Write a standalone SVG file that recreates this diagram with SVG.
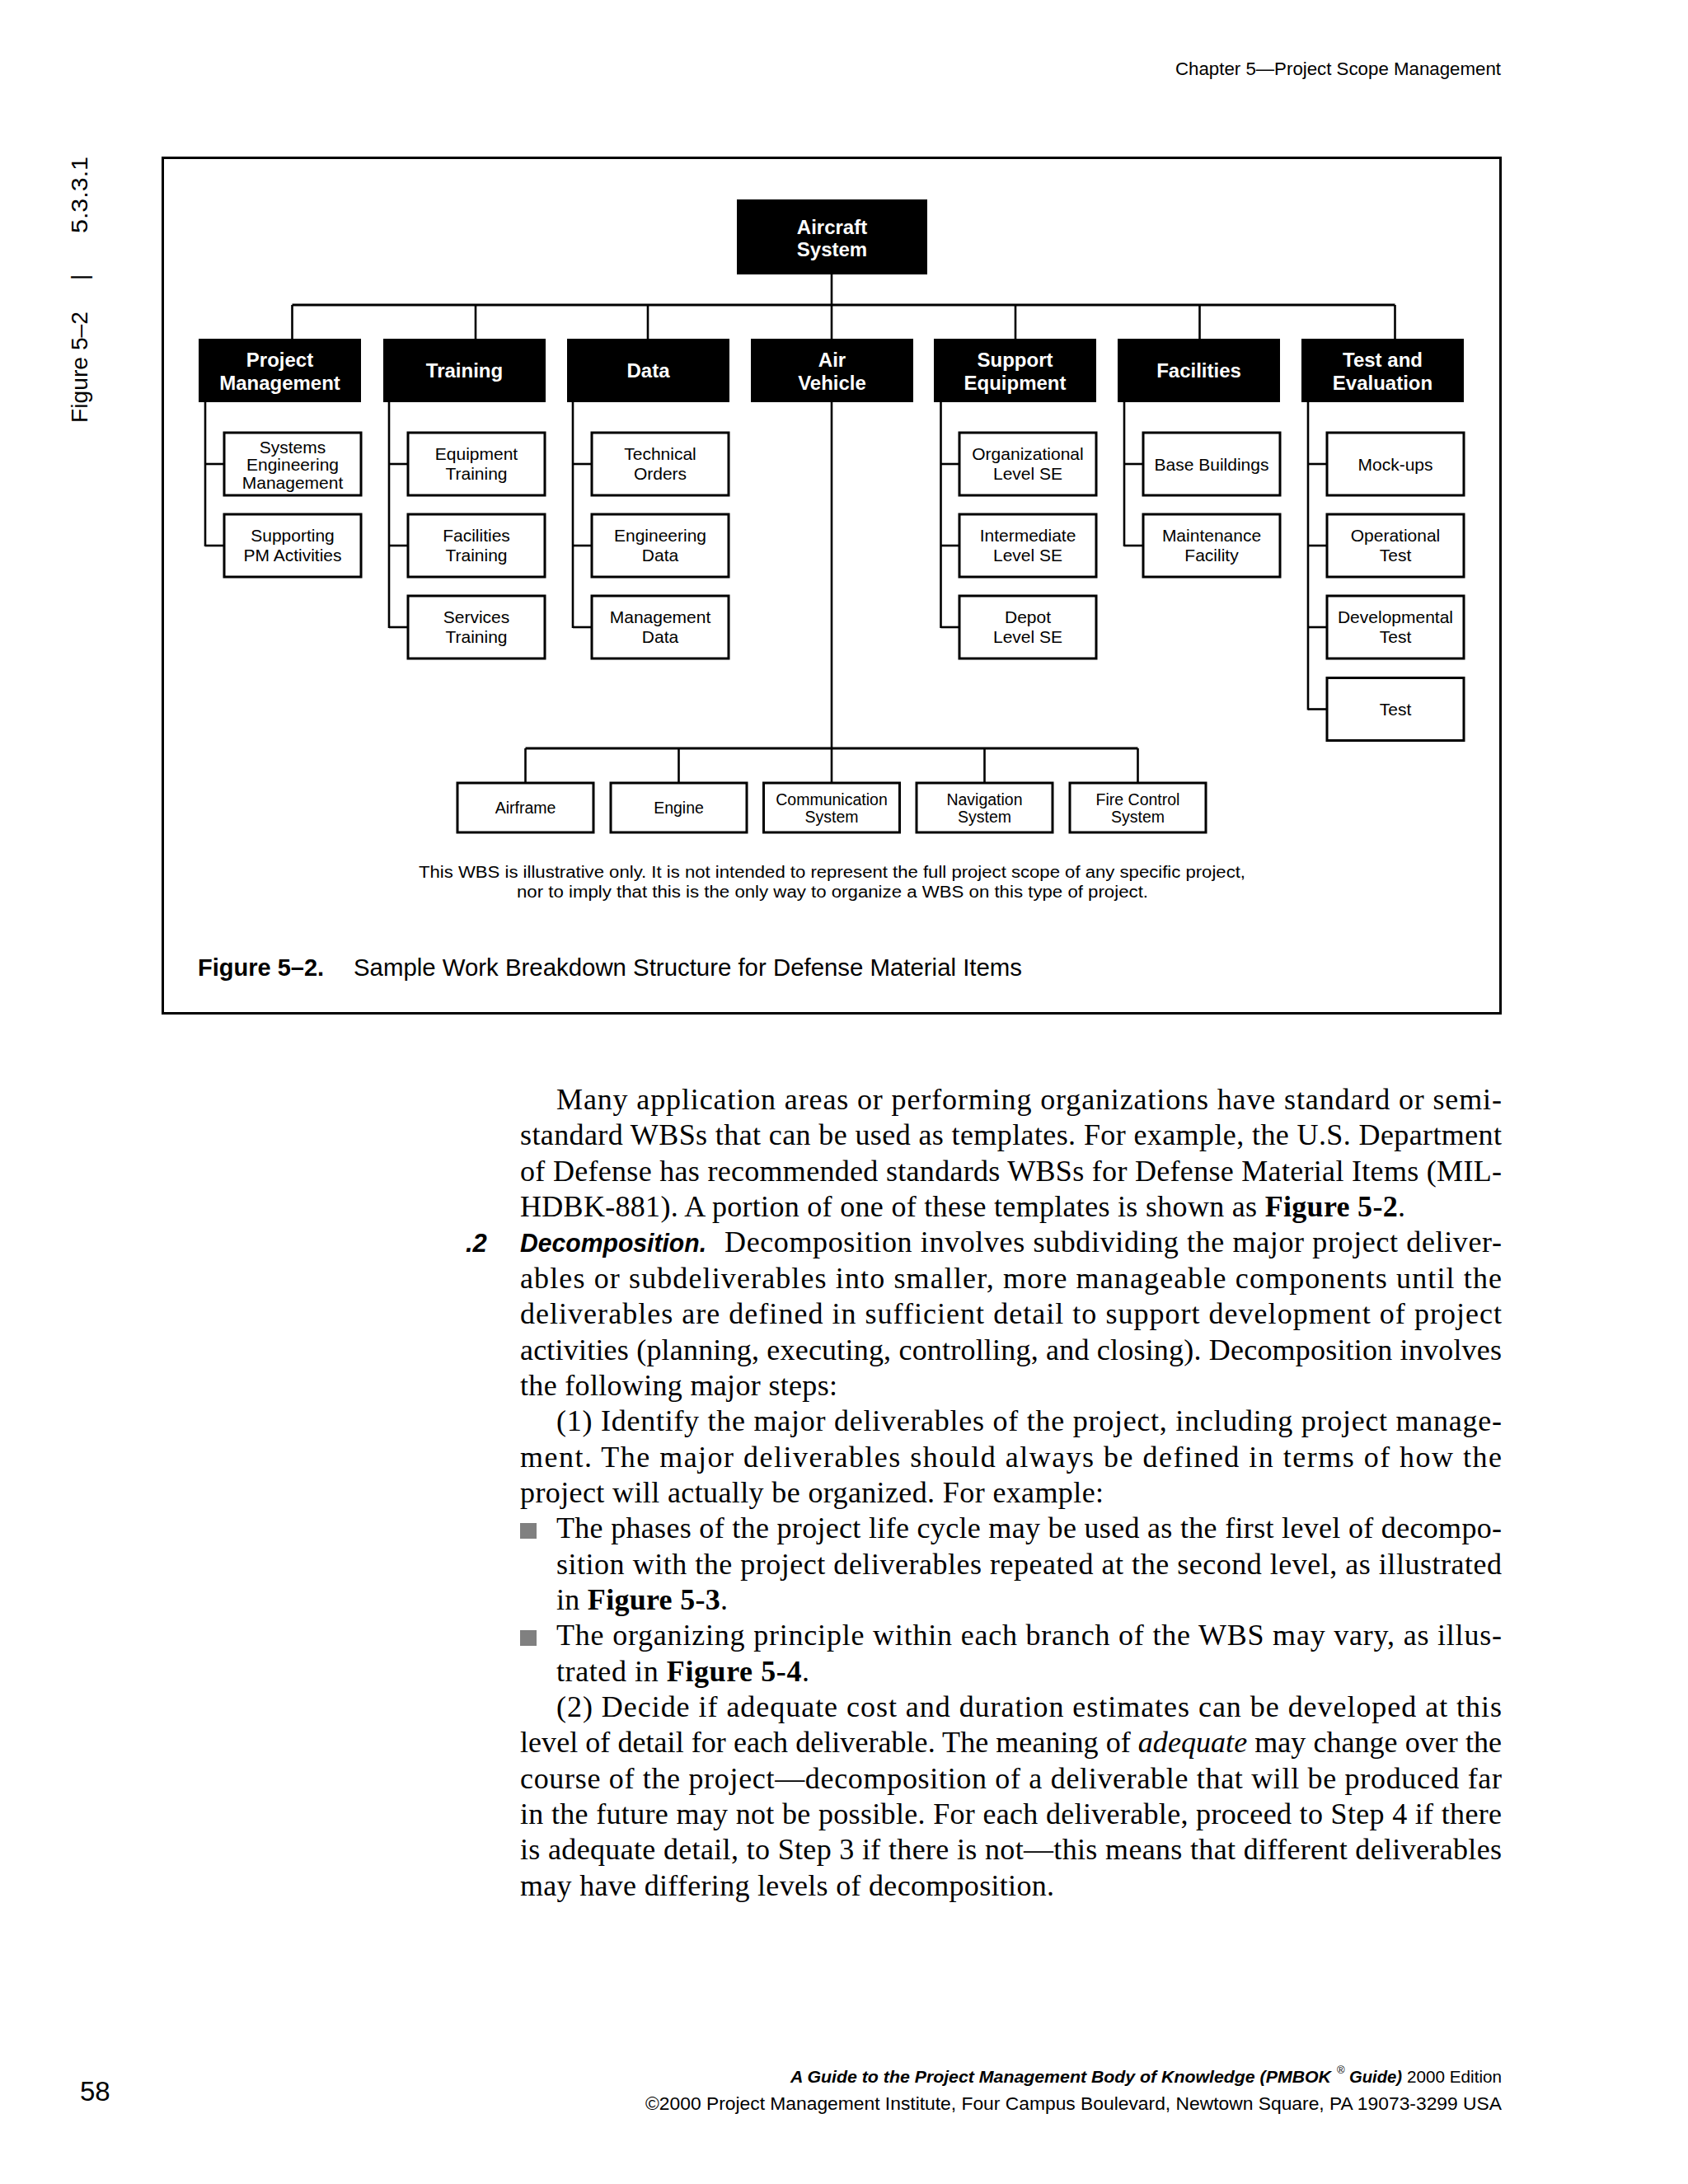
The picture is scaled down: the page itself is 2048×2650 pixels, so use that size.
<svg xmlns="http://www.w3.org/2000/svg" width="2048" height="2650" viewBox="0 0 2048 2650">
<style>
.sans{font-family:"Liberation Sans",Arial,sans-serif;fill:#000}
.top{font-family:"Liberation Sans",Arial,sans-serif;font-weight:bold;font-size:24px;fill:#fff;text-anchor:middle}
.sub{font-family:"Liberation Sans",Arial,sans-serif;font-size:21px;fill:#000;text-anchor:middle}
.low{font-family:"Liberation Sans",Arial,sans-serif;font-size:19.5px;fill:#000;text-anchor:middle}
.dark{fill:#000}
.box{fill:#fff;stroke:#000;stroke-width:3}
.body{font-family:"Liberation Serif","Times New Roman",serif;font-size:36px;fill:#000}
.bi{font-family:"Liberation Sans",Arial,sans-serif;font-weight:bold;font-style:italic;font-size:31px;fill:#000}
.b{font-weight:bold}
.conn line{stroke:#000;stroke-width:2.6;fill:none}
.conn line.bus{stroke-width:3}
</style>
<rect x="0" y="0" width="2048" height="2650" fill="#fff"/>

<!-- header and margins -->
<text class="sans" x="1426" y="90.5" font-size="22" textLength="395" lengthAdjust="spacingAndGlyphs">Chapter 5—Project Scope Management</text>
<g transform="translate(106,513) rotate(-90)">
<text class="sans" x="0" y="0" font-size="28" textLength="135" lengthAdjust="spacingAndGlyphs">Figure 5–2</text>
<text class="sans" x="173" y="0" font-size="28">|</text>
<text class="sans" x="230" y="0" font-size="28" textLength="93" lengthAdjust="spacingAndGlyphs">5.3.3.1</text>
</g>

<!-- frame -->
<rect x="197.5" y="191.5" width="1623" height="1038" fill="none" stroke="#000" stroke-width="3"/>

<!-- connectors -->
<g id="connectors" class="conn">
<line x1="1009" y1="333" x2="1009" y2="370"/>
<line class="bus" x1="354.5" y1="370" x2="1692.5" y2="370"/>
<line x1="354.5" y1="370" x2="354.5" y2="411"/>
<line x1="577" y1="370" x2="577" y2="411"/>
<line x1="786" y1="370" x2="786" y2="411"/>
<line x1="1009" y1="370" x2="1009" y2="411"/>
<line x1="1232" y1="370" x2="1232" y2="411"/>
<line x1="1455.5" y1="370" x2="1455.5" y2="411"/>
<line x1="1692.5" y1="370" x2="1692.5" y2="411"/>
<line x1="249" y1="488" x2="249" y2="663"/>
<line x1="249" y1="563" x2="272" y2="563"/>
<line x1="249" y1="662" x2="272" y2="662"/>
<line x1="472" y1="488" x2="472" y2="762"/>
<line x1="472" y1="563" x2="495" y2="563"/>
<line x1="472" y1="662" x2="495" y2="662"/>
<line x1="472" y1="761" x2="495" y2="761"/>
<line x1="695" y1="488" x2="695" y2="762"/>
<line x1="695" y1="563" x2="718" y2="563"/>
<line x1="695" y1="662" x2="718" y2="662"/>
<line x1="695" y1="761" x2="718" y2="761"/>
<line x1="1141.5" y1="488" x2="1141.5" y2="762"/>
<line x1="1141.5" y1="563" x2="1164" y2="563"/>
<line x1="1141.5" y1="662" x2="1164" y2="662"/>
<line x1="1141.5" y1="761" x2="1164" y2="761"/>
<line x1="1364" y1="488" x2="1364" y2="663"/>
<line x1="1364" y1="563" x2="1387" y2="563"/>
<line x1="1364" y1="662" x2="1387" y2="662"/>
<line x1="1587" y1="488" x2="1587" y2="861.5"/>
<line x1="1587" y1="563" x2="1610" y2="563"/>
<line x1="1587" y1="662" x2="1610" y2="662"/>
<line x1="1587" y1="761" x2="1610" y2="761"/>
<line x1="1587" y1="860.5" x2="1610" y2="860.5"/>
<line x1="1009" y1="488" x2="1009" y2="908"/>
<line class="bus" x1="637.5" y1="908" x2="1380.5" y2="908"/>
<line x1="637.5" y1="908" x2="637.5" y2="950"/>
<line x1="823.5" y1="908" x2="823.5" y2="950"/>
<line x1="1009" y1="908" x2="1009" y2="950"/>
<line x1="1194.5" y1="908" x2="1194.5" y2="950"/>
<line x1="1380.5" y1="908" x2="1380.5" y2="950"/>
</g>

<g id="aircraft-system">
<rect class="dark" x="894" y="242" width="231" height="91"/>
<text class="top" x="1009.5" y="283.5">Aircraft</text>
<text class="top" x="1009.5" y="310.5">System</text>
</g>

<g id="project-management">
<rect class="dark" x="241" y="411" width="197" height="77"/>
<text class="top" x="339.5" y="445">Project</text>
<text class="top" x="339.5" y="472.5">Management</text>
</g>
<g id="training">
<rect class="dark" x="465" y="411" width="197" height="77"/>
<text class="top" x="563.5" y="458">Training</text>
</g>
<g id="data">
<rect class="dark" x="688" y="411" width="197" height="77"/>
<text class="top" x="786.5" y="458">Data</text>
</g>
<g id="air-vehicle">
<rect class="dark" x="911" y="411" width="197" height="77"/>
<text class="top" x="1009.5" y="445">Air</text>
<text class="top" x="1009.5" y="472.5">Vehicle</text>
</g>
<g id="support-equipment">
<rect class="dark" x="1133" y="411" width="197" height="77"/>
<text class="top" x="1231.5" y="445">Support</text>
<text class="top" x="1231.5" y="472.5">Equipment</text>
</g>
<g id="facilities">
<rect class="dark" x="1356" y="411" width="197" height="77"/>
<text class="top" x="1454.5" y="458">Facilities</text>
</g>
<g id="test-and-evaluation">
<rect class="dark" x="1579" y="411" width="197" height="77"/>
<text class="top" x="1677.5" y="445">Test and</text>
<text class="top" x="1677.5" y="472.5">Evaluation</text>
</g>

<g id="systems-engineering-management">
<rect class="box" x="272" y="525" width="166" height="76"/>
<text class="sub" x="355" y="549.5">Systems</text>
<text class="sub" x="355" y="571.3">Engineering</text>
<text class="sub" x="355" y="593">Management</text>
</g>
<g id="supporting-pm-activities">
<rect class="box" x="272" y="624" width="166" height="76"/>
<text class="sub" x="355" y="656.5">Supporting</text>
<text class="sub" x="355" y="681">PM Activities</text>
</g>

<g id="equipment-training">
<rect class="box" x="495" y="525" width="166" height="76"/>
<text class="sub" x="578" y="557.5">Equipment</text>
<text class="sub" x="578" y="582">Training</text>
</g>
<g id="facilities-training">
<rect class="box" x="495" y="624" width="166" height="76"/>
<text class="sub" x="578" y="656.5">Facilities</text>
<text class="sub" x="578" y="681">Training</text>
</g>
<g id="services-training">
<rect class="box" x="495" y="723" width="166" height="76"/>
<text class="sub" x="578" y="755.5">Services</text>
<text class="sub" x="578" y="780">Training</text>
</g>

<g id="technical-orders">
<rect class="box" x="718" y="525" width="166" height="76"/>
<text class="sub" x="801" y="557.5">Technical</text>
<text class="sub" x="801" y="582">Orders</text>
</g>
<g id="engineering-data">
<rect class="box" x="718" y="624" width="166" height="76"/>
<text class="sub" x="801" y="656.5">Engineering</text>
<text class="sub" x="801" y="681">Data</text>
</g>
<g id="management-data">
<rect class="box" x="718" y="723" width="166" height="76"/>
<text class="sub" x="801" y="755.5">Management</text>
<text class="sub" x="801" y="780">Data</text>
</g>

<g id="organizational-level-se">
<rect class="box" x="1164" y="525" width="166" height="76"/>
<text class="sub" x="1247" y="557.5">Organizational</text>
<text class="sub" x="1247" y="582">Level SE</text>
</g>
<g id="intermediate-level-se">
<rect class="box" x="1164" y="624" width="166" height="76"/>
<text class="sub" x="1247" y="656.5">Intermediate</text>
<text class="sub" x="1247" y="681">Level SE</text>
</g>
<g id="depot-level-se">
<rect class="box" x="1164" y="723" width="166" height="76"/>
<text class="sub" x="1247" y="755.5">Depot</text>
<text class="sub" x="1247" y="780">Level SE</text>
</g>

<g id="base-buildings">
<rect class="box" x="1387" y="525" width="166" height="76"/>
<text class="sub" x="1470" y="570.5">Base Buildings</text>
</g>
<g id="maintenance-facility">
<rect class="box" x="1387" y="624" width="166" height="76"/>
<text class="sub" x="1470" y="656.5">Maintenance</text>
<text class="sub" x="1470" y="681">Facility</text>
</g>

<g id="mock-ups">
<rect class="box" x="1610" y="525" width="166" height="76"/>
<text class="sub" x="1693" y="570.5">Mock-ups</text>
</g>
<g id="operational-test">
<rect class="box" x="1610" y="624" width="166" height="76"/>
<text class="sub" x="1693" y="656.5">Operational</text>
<text class="sub" x="1693" y="681">Test</text>
</g>
<g id="developmental-test">
<rect class="box" x="1610" y="723" width="166" height="76"/>
<text class="sub" x="1693" y="755.5">Developmental</text>
<text class="sub" x="1693" y="780">Test</text>
</g>
<g id="test">
<rect class="box" x="1610" y="822.5" width="166" height="76"/>
<text class="sub" x="1693" y="868">Test</text>
</g>

<g id="airframe">
<rect class="box" x="555" y="950" width="165" height="60"/>
<text class="low" x="637.5" y="987">Airframe</text>
</g>
<g id="engine">
<rect class="box" x="741" y="950" width="165" height="60"/>
<text class="low" x="823.5" y="987">Engine</text>
</g>
<g id="communication-system">
<rect class="box" x="926.5" y="950" width="165" height="60"/>
<text class="low" x="1009" y="976.5">Communication</text>
<text class="low" x="1009" y="998">System</text>
</g>
<g id="navigation-system">
<rect class="box" x="1112" y="950" width="165" height="60"/>
<text class="low" x="1194.5" y="976.5">Navigation</text>
<text class="low" x="1194.5" y="998">System</text>
</g>
<g id="fire-control-system">
<rect class="box" x="1298" y="950" width="165" height="60"/>
<text class="low" x="1380.5" y="976.5">Fire Control</text>
<text class="low" x="1380.5" y="998">System</text>
</g>

<text class="sans" x="508" y="1065" font-size="20" textLength="1003" lengthAdjust="spacingAndGlyphs">This WBS is illustrative only. It is not intended to represent the full project scope of any specific project,</text>
<text class="sans" x="627" y="1089" font-size="20" textLength="766" lengthAdjust="spacingAndGlyphs">nor to imply that this is the only way to organize a WBS on this type of project.</text>
<text class="sans" x="240" y="1184" font-size="29" font-weight="bold">Figure 5–2.</text>
<text class="sans" x="429" y="1184" font-size="29" textLength="811" lengthAdjust="spacingAndGlyphs">Sample Work Breakdown Structure for Defense Material Items</text>

<text class="body" x="675" y="1346" textLength="1147" lengthAdjust="spacing">Many application areas or performing organizations have standard or semi-</text>
<text class="body" x="631" y="1389.4" textLength="1191" lengthAdjust="spacing">standard WBSs that can be used as templates. For example, the U.S. Department</text>
<text class="body" x="631" y="1432.7" textLength="1191" lengthAdjust="spacing">of Defense has recommended standards WBSs for Defense Material Items (MIL-</text>
<text class="body" x="631" y="1476.1" textLength="1074" lengthAdjust="spacing">HDBK-881). A portion of one of these templates is shown as <tspan class="b">Figure 5-2</tspan>.</text>
<text class="bi" x="565" y="1519.4">.2</text>
<text class="bi" x="631" y="1519.4" textLength="226" lengthAdjust="spacingAndGlyphs">Decomposition.</text>
<text class="body" x="879" y="1519.4" textLength="943" lengthAdjust="spacing">Decomposition involves subdividing the major project deliver-</text>
<text class="body" x="631" y="1562.8" textLength="1191" lengthAdjust="spacing">ables or subdeliverables into smaller, more manageable components until the</text>
<text class="body" x="631" y="1606.1" textLength="1191" lengthAdjust="spacing">deliverables are defined in sufficient detail to support development of project</text>
<text class="body" x="631" y="1649.5" textLength="1191" lengthAdjust="spacing">activities (planning, executing, controlling, and closing). Decomposition involves</text>
<text class="body" x="631" y="1692.8" textLength="385" lengthAdjust="spacing">the following major steps:</text>
<text class="body" x="675" y="1736.2" textLength="1147" lengthAdjust="spacing">(1) Identify the major deliverables of the project, including project manage-</text>
<text class="body" x="631" y="1779.5" textLength="1191" lengthAdjust="spacing">ment. The major deliverables should always be defined in terms of how the</text>
<text class="body" x="631" y="1822.9" textLength="708" lengthAdjust="spacing">project will actually be organized. For example:</text>
<rect x="631" y="1848" width="20" height="19" fill="#808080"/>
<text class="body" x="675" y="1866.2" textLength="1147" lengthAdjust="spacing">The phases of the project life cycle may be used as the first level of decompo-</text>
<text class="body" x="675" y="1909.6" textLength="1147" lengthAdjust="spacing">sition with the project deliverables repeated at the second level, as illustrated</text>
<text class="body" x="675" y="1952.9" textLength="208" lengthAdjust="spacing">in <tspan class="b">Figure 5-3</tspan>.</text>
<rect x="631" y="1978" width="20" height="19" fill="#808080"/>
<text class="body" x="675" y="1996.3" textLength="1147" lengthAdjust="spacing">The organizing principle within each branch of the WBS may vary, as illus-</text>
<text class="body" x="675" y="2039.6" textLength="307" lengthAdjust="spacing">trated in <tspan class="b">Figure 5-4</tspan>.</text>
<text class="body" x="675" y="2083" textLength="1147" lengthAdjust="spacing">(2) Decide if adequate cost and duration estimates can be developed at this</text>
<text class="body" x="631" y="2126.3" textLength="1191" lengthAdjust="spacing">level of detail for each deliverable. The meaning of <tspan font-style="italic">adequate</tspan> may change over the</text>
<text class="body" x="631" y="2169.7" textLength="1191" lengthAdjust="spacing">course of the project—decomposition of a deliverable that will be produced far</text>
<text class="body" x="631" y="2213" textLength="1191" lengthAdjust="spacing">in the future may not be possible. For each deliverable, proceed to Step 4 if there</text>
<text class="body" x="631" y="2256.4" textLength="1191" lengthAdjust="spacing">is adequate detail, to Step 3 if there is not—this means that different deliverables</text>
<text class="body" x="631" y="2299.7" textLength="648" lengthAdjust="spacing">may have differing levels of decomposition.</text>

<text class="sans" x="97" y="2549" font-size="33">58</text>
<text class="sans" x="959" y="2527" font-size="21" font-weight="bold" font-style="italic" textLength="656" lengthAdjust="spacingAndGlyphs">A Guide to the Project Management Body of Knowledge (PMBOK</text>
<text class="sans" x="1622" y="2516" font-size="13">®</text>
<text class="sans" x="1637" y="2527" font-size="21" font-weight="bold" font-style="italic" textLength="64" lengthAdjust="spacingAndGlyphs">Guide)</text>
<text class="sans" x="1707" y="2527" font-size="21" textLength="115" lengthAdjust="spacingAndGlyphs">2000 Edition</text>
<text class="sans" x="783" y="2560" font-size="22" textLength="1039" lengthAdjust="spacingAndGlyphs">©2000 Project Management Institute, Four Campus Boulevard, Newtown Square, PA 19073-3299 USA</text>
</svg>
